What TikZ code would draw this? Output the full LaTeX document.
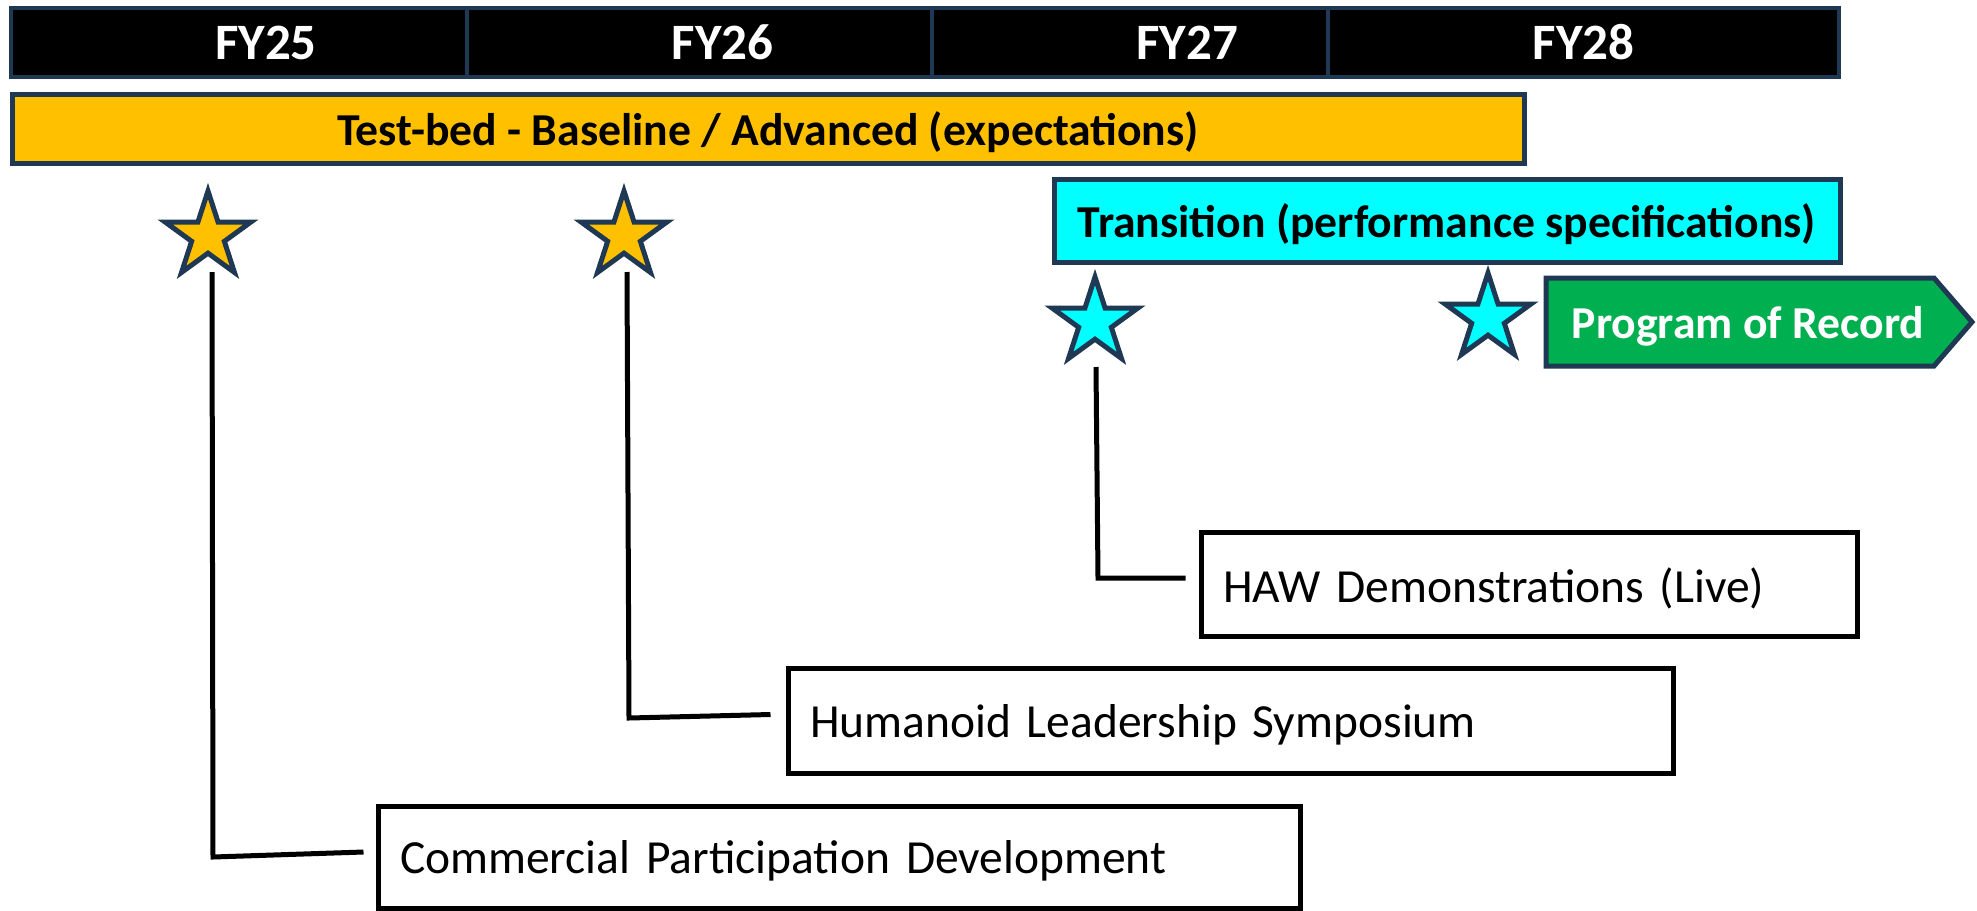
\documentclass[tikz,border=0pt]{standalone}
\usepackage{fontspec}
\setmainfont{Carlito}
\usetikzlibrary{shapes.geometric}
\definecolor{navy}{HTML}{1F3853}
\definecolor{gold}{HTML}{FFC000}
\definecolor{aqua}{HTML}{00FFFF}
\definecolor{pgreen}{HTML}{00B050}
\newcommand{\lowtxt}[1]{\raisebox{-4pt}[\height][\depth]{#1}}
\tikzset{
  fybox/.style={draw=navy, line width=4pt, fill=black, minimum width=511pt, minimum height=69pt, inner sep=0pt, text=white, font=\fontsize{51}{58}\selectfont\bfseries},
  barbox/.style={draw=navy, line width=5pt, inner sep=0pt, font=\fontsize{45.7}{52}\selectfont\bfseries},
  mstar/.style={star, star points=5, star point ratio=2.618, minimum size=90pt, inner sep=0pt, draw=navy, line width=5pt},
  evbox/.style={draw=black, line width=5pt, inner xsep=22pt, inner ysep=0pt, align=left, font=\fontsize{47.5}{54}\selectfont},
  conn/.style={draw=black, line width=5pt}
}
\begin{document}
\begin{tikzpicture}[x=1pt,y=-1pt]
\useasboundingbox (0,0) rectangle (1977,910);
% fiscal years
\node[fybox] (fy25) at (266,42.5) {FY25};
\node[fybox] (fy26) at (722.5,42.5) {FY26};
\node[fybox] (fy27) at (1187,42.5) {FY27};
\node[fybox] (fy28) at (1583.5,42.5) {FY28};
% bars
\node[barbox, fill=gold, minimum width=1512pt, minimum height=69pt] (tb) at (768,128.5) {\lowtxt{Test-bed - Baseline / Advanced (expectations)}};
\node[barbox, fill=aqua, minimum width=786pt, minimum height=83pt] (tr) at (1447,220.5) {\lowtxt{Transition (performance specifications)}};
\draw[navy, line width=5pt, fill=pgreen] (1546,278) -- (1934,278) -- (1972,322) -- (1934,366) -- (1546,366) -- cycle;
\node[text=white, font=\fontsize{45.7}{52}\selectfont\bfseries, inner sep=0pt] (por) at (1748,326) {Program of Record};
% stars
\node[mstar, fill=gold] (s1) at (208,236) {};
\node[mstar, fill=gold] (s2) at (624,236) {};
\node[mstar, fill=aqua] (s3) at (1095,322) {};
\node[mstar, fill=aqua] (s4) at (1488,318) {};
% event boxes
\node[evbox, minimum width=656pt, text width=612pt, minimum height=104pt] (haw) at (1529,584) {\lowtxt{HAW Demonstrations (Live)}};
\node[evbox, minimum width=885pt, text width=841pt, minimum height=105pt] (hls) at (1230.5,720.5) {\lowtxt{Humanoid Leadership Symposium}};
\node[evbox, minimum width=922pt, text width=878pt, minimum height=102pt] (cpd) at (839,857) {\lowtxt{Commercial Participation Development}};
% connectors
\coordinate (b1) at (213,857);
\coordinate (b2) at (629,718);
\coordinate (b3) at (1098,578);
\draw[conn] ([xshift=4pt,yshift=-36pt]s1.center) -- (b1) -- ([xshift=-12pt,yshift=5pt]cpd.west);
\draw[conn] ([xshift=3pt,yshift=-36pt]s2.center) -- (b2) -- ([xshift=-15pt,yshift=6pt]hls.west);
\draw[conn] ([xshift=1pt,yshift=-45pt]s3.center) -- (b3) -- ([xshift=-13pt,yshift=6pt]haw.west);
\end{tikzpicture}
\end{document}
